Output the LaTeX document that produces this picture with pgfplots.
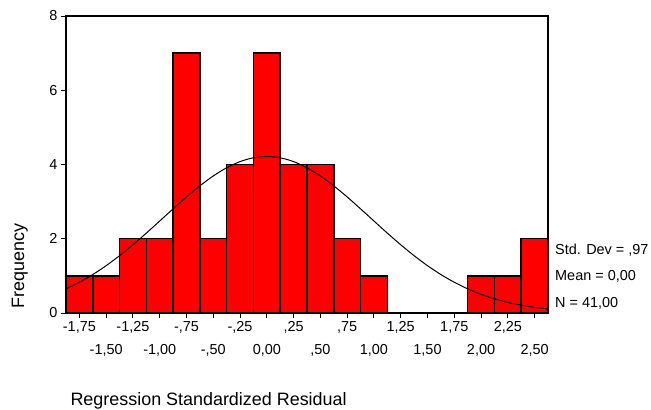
\documentclass[border=0pt]{standalone}
\usepackage{pgfplots}
\usepackage{pgfplotstable}
\pgfplotsset{compat=1.18}
\usepackage{fontspec}
\setmainfont{Liberation Sans}

% left bin edge, frequency (last row closes the interval)
\pgfplotstableread{
left freq
-1.875 1
-1.625 1
-1.375 2
-1.125 2
-0.875 7
-0.625 2
-0.375 4
-0.125 7
0.125 4
0.375 4
0.625 2
0.875 1
1.125 0
1.375 0
1.625 0
1.875 1
2.125 1
2.375 2
2.625 2
}\residtable

% normal curve, mean 0, sd .97, N 41, bin .25
\pgfplotstableread{
x y
-1.875 0.651
-1.75 0.828
-1.625 1.036
-1.5 1.275
-1.375 1.544
-1.25 1.838
-1.125 2.152
-1.0 2.478
-0.875 2.806
-0.75 3.126
-0.625 3.425
-0.5 3.691
-0.375 3.912
-0.25 4.078
-0.125 4.181
0 4.215
0.125 4.181
0.25 4.078
0.375 3.912
0.5 3.691
0.625 3.425
0.75 3.126
0.875 2.806
1.0 2.478
1.125 2.152
1.25 1.838
1.375 1.544
1.5 1.275
1.625 1.036
1.75 0.828
1.875 0.651
2.0 0.503
2.125 0.383
2.25 0.286
2.375 0.210
2.5 0.152
2.625 0.108
}\normaltable

\begin{document}
\begin{tikzpicture}
\path[use as bounding box] (-66bp,-97bp) rectangle (585bp,313bp);
\begin{axis}[
    at={(0,0)}, anchor=south west,
    scale only axis,
    width=482bp, height=297bp,
    xmin=-1.875, xmax=2.625,
    ymin=0, ymax=8,
    axis line style={line width=1.3pt},
    tick align=outside,
    xtick pos=bottom, ytick pos=left,
    major tick length=5bp,
    tick style={black, line width=0.9pt},
    ytick={0,2,4,6,8},
    /pgf/number format/assume math mode=true,
    xtick={-1.75,-1.25,-0.75,-0.25,0.25,0.75,1.25,1.75,2.25},
    xticklabels={{-1,75},{-1,25},{-,75},{-,25},{,25},{,75},{1,25},{1,75},{2,25}},
    extra x ticks={-1.5,-1,-0.5,0,0.5,1,1.5,2,2.5},
    extra x tick labels={{-1,50},{-1,00},{-,50},{0,00},{,50},{1,00},{1,50},{2,00},{2,50}},
    extra x tick style={xticklabel style={yshift=-23bp}},
    tick label style={font=\fontsize{14.5}{17}\selectfont},
    label style={font=\fontsize{18}{21}\selectfont},
    xlabel={Regression Standardized Residual},
    xlabel style={at={(axis description cs:0.0021,-0.3098)}, anchor=base west},
    ylabel={Frequency},
    ylabel style={at={(axis description cs:-0.0871,0.0034)}, anchor=base west},
]
\addplot[ybar interval, fill=red, draw=black, line width=1.5pt] table[x=left, y=freq] {\residtable};
\addplot[black, line width=1pt, smooth] table[x=x, y=y] {\normaltable};
\end{axis}
\begin{scope}[every node/.style={anchor=base west, inner sep=0pt, font=\fontsize{14.5}{17}\selectfont}]
\node at (489bp,58bp) {Std. Dev = ,97};
\node at (489bp,33bp) {Mean = 0,00};
\node at (489bp,6bp) {N = 41,00};
\end{scope}
\end{tikzpicture}
\end{document}
